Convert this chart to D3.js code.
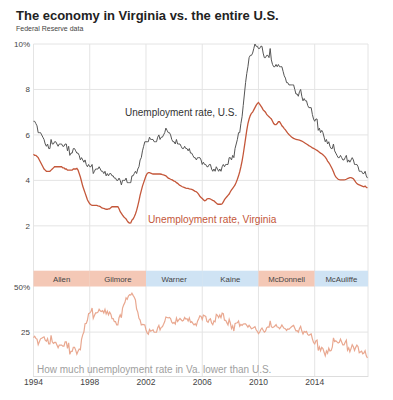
<!DOCTYPE html>
<html>
<head>
<meta charset="utf-8">
<script src="https://cdn.jsdelivr.net/npm/d3@7"></script>
<style>
  body { margin: 0; background: #fff; }
  svg { display: block; font-family: "Liberation Sans", Arial, sans-serif; }
</style>
</head>
<body>
<svg id="chart" width="393" height="400"></svg>
<script>
// Monthly data, Jan 1994 – Oct 2017
const startYear = 1994;
const usRate = [
  6.6,6.6,6.5,6.4,6.1,6.1,6.1,6.0,5.9,5.8,5.6,5.5,
  5.6,5.4,5.4,5.8,5.6,5.6,5.7,5.7,5.6,5.5,5.6,5.6,
  5.6,5.5,5.5,5.6,5.6,5.3,5.5,5.1,5.2,5.2,5.4,5.4,
  5.3,5.2,5.2,5.1,4.9,5.0,4.9,4.8,4.9,4.7,4.6,4.7,
  4.6,4.6,4.7,4.3,4.4,4.5,4.5,4.5,4.6,4.5,4.4,4.4,
  4.3,4.4,4.2,4.3,4.2,4.3,4.3,4.2,4.2,4.1,4.1,4.0,
  4.0,4.1,4.0,3.8,4.0,4.0,4.0,4.1,3.9,3.9,3.9,3.9,
  4.2,4.2,4.3,4.4,4.3,4.5,4.6,4.9,5.0,5.3,5.5,5.7,
  5.7,5.7,5.7,5.9,5.8,5.8,5.8,5.7,5.7,5.7,5.9,6.0,
  5.8,5.9,5.9,6.0,6.1,6.3,6.2,6.1,6.1,6.0,5.8,5.7,
  5.7,5.6,5.8,5.6,5.6,5.6,5.5,5.4,5.4,5.5,5.4,5.4,
  5.3,5.4,5.2,5.2,5.1,5.0,5.0,4.9,5.0,5.0,5.0,4.9,
  4.7,4.8,4.7,4.7,4.6,4.6,4.7,4.7,4.5,4.4,4.5,4.4,
  4.6,4.5,4.4,4.5,4.4,4.6,4.7,4.6,4.7,4.7,4.7,5.0,
  5.0,4.9,5.1,5.0,5.4,5.6,5.8,6.1,6.1,6.5,6.8,7.3,
  7.8,8.3,8.7,9.0,9.4,9.5,9.5,9.6,9.8,10.0,9.9,9.9,
  9.8,9.8,9.9,9.9,9.6,9.4,9.4,9.5,9.5,9.4,9.8,9.3,
  9.1,9.0,9.0,9.1,9.0,9.1,9.0,9.0,9.0,8.8,8.6,8.5,
  8.3,8.3,8.2,8.2,8.2,8.2,8.2,8.0,7.8,7.8,7.7,7.9,
  8.0,7.7,7.5,7.6,7.5,7.5,7.3,7.2,7.2,7.2,6.9,6.7,
  6.6,6.7,6.7,6.2,6.3,6.1,6.2,6.1,5.9,5.7,5.8,5.6,
  5.7,5.5,5.4,5.4,5.6,5.3,5.2,5.1,5.0,5.0,5.1,5.0,
  4.9,4.9,5.0,5.1,4.8,4.9,4.8,4.9,5.0,4.9,4.7,4.7,
  4.7,4.6,4.4,4.4,4.4,4.3,4.3,4.4,4.2,4.1
];
const vaRate = [
  5.15,5.1,5.1,5.05,5.0,4.9,4.8,4.7,4.6,4.5,4.45,4.4,
  4.4,4.4,4.4,4.45,4.5,4.55,4.6,4.6,4.6,4.6,4.6,4.6,
  4.6,4.55,4.55,4.5,4.5,4.45,4.45,4.45,4.45,4.45,4.5,4.5,
  4.5,4.53,4.45,4.3,4.15,3.95,3.75,3.6,3.45,3.3,3.15,3.05,
  2.97,2.93,2.9,2.9,2.9,2.9,2.9,2.88,2.87,2.85,2.8,2.78,
  2.77,2.75,2.73,2.73,2.75,2.75,2.8,2.84,2.84,2.84,2.84,2.84,
  2.84,2.75,2.62,2.55,2.47,2.4,2.35,2.3,2.22,2.15,2.12,2.13,
  2.25,2.3,2.4,2.52,2.68,2.88,3.1,3.35,3.55,3.75,3.9,4.05,
  4.2,4.3,4.34,4.34,4.32,4.3,4.28,4.28,4.28,4.28,4.28,4.28,
  4.28,4.27,4.25,4.24,4.22,4.2,4.15,4.1,4.08,4.05,4.03,4.0,
  3.97,3.95,3.9,3.87,3.82,3.78,3.75,3.72,3.7,3.68,3.66,3.65,
  3.65,3.63,3.62,3.6,3.58,3.55,3.52,3.5,3.45,3.38,3.3,3.25,
  3.2,3.15,3.1,3.12,3.18,3.2,3.2,3.18,3.15,3.12,3.1,3.05,
  3.0,2.96,2.95,2.95,2.95,2.97,3.05,3.15,3.22,3.28,3.34,3.4,
  3.5,3.58,3.65,3.72,3.8,3.92,4.05,4.2,4.38,4.6,4.85,5.15,
  5.5,5.85,6.2,6.5,6.7,6.85,6.95,7.0,7.1,7.2,7.3,7.38,
  7.43,7.35,7.28,7.2,7.1,7.05,7.0,6.9,6.85,6.8,6.75,6.7,
  6.6,6.5,6.45,6.45,6.5,6.58,6.58,6.5,6.4,6.35,6.28,6.22,
  6.15,6.08,6.02,5.97,5.92,5.88,5.85,5.83,5.8,5.79,5.78,5.77,
  5.75,5.73,5.7,5.67,5.63,5.6,5.57,5.53,5.5,5.47,5.43,5.41,
  5.38,5.35,5.32,5.28,5.24,5.2,5.17,5.13,5.08,5.02,4.95,4.85,
  4.78,4.7,4.6,4.5,4.38,4.25,4.15,4.1,4.05,4.03,4.02,4.02,
  4.02,4.02,4.03,4.05,4.08,4.1,4.12,4.12,4.1,4.07,4.0,3.92,
  3.86,3.82,3.8,3.78,3.76,3.74,3.72,3.75,3.7,3.66
];
const governors = ["Allen","Gilmore","Warner","Kaine","McDonnell","McAuliffe"];
const govStart  = [1994, 1998, 2002, 2006, 2010, 2014];
const govParty  = ["R","R","D","D","R","D"];
const xTicks = [1994, 1998, 2002, 2006, 2010, 2014];
const yTicksTop = [2, 4, 6, 8, 10];
const yTicksBottom = [25, 50];

const months = usRate.map((d, i) => startYear + i / 12);
// share by which the Virginia rate is lower than the U.S. rate, in percent
const gapPct = usRate.map((u, i) => (u - vaRate[i]) / u * 100);

const svg = d3.select("#chart");
const x = d3.scaleLinear().domain([1994, 2017.79]).range([33.5, 368]);
const yTop = d3.scaleLinear().domain([0, 10]).range([271.3, 44]);
const yBot = d3.scaleLinear().domain([0, 50]).range([377.5, 286.7]);

const grid = "#e4e4e4";
// title
svg.append("text").attr("x", 16).attr("y", 20)
  .attr("font-size", 13).attr("font-weight", "bold").attr("fill", "#222")
  .text("The economy in Virginia vs. the entire U.S.");
svg.append("text").attr("x", 16).attr("y", 31)
  .attr("font-size", 7).attr("fill", "#444")
  .text("Federal Reserve data");

// horizontal gridlines top
svg.append("g").selectAll("line").data(yTicksTop).join("line")
  .attr("x1", x.range()[0]).attr("x2", x.range()[1])
  .attr("y1", d => yTop(d)).attr("y2", d => yTop(d))
  .attr("stroke", grid).attr("stroke-width", 1);
// horizontal gridline bottom
svg.append("g").selectAll("line").data([25]).join("line")
  .attr("x1", x.range()[0]).attr("x2", x.range()[1])
  .attr("y1", d => yBot(d)).attr("y2", d => yBot(d))
  .attr("stroke", grid).attr("stroke-width", 1);
// vertical gridlines
const vLines = xTicks.concat([x.domain()[1]]);
svg.append("g").selectAll("line").data(vLines).join("line")
  .attr("x1", d => x(d)).attr("x2", d => x(d))
  .attr("y1", yTop(10)).attr("y2", 377)
  .attr("stroke", grid).attr("stroke-width", 1);
// bottom baseline
svg.append("line").attr("x1", x.range()[0]).attr("x2", x.range()[1])
  .attr("y1", 376.5).attr("y2", 376.5).attr("stroke", "#ddd");

// y tick labels
svg.append("g").selectAll("text").data(yTicksTop).join("text")
  .attr("x", 30).attr("y", d => yTop(d)).attr("dy", "0.35em")
  .attr("text-anchor", "end").attr("font-size", 8).attr("fill", "#444")
  .text(d => d === 10 ? "10%" : d);
svg.append("g").selectAll("text").data(yTicksBottom).join("text")
  .attr("x", 30).attr("y", d => yBot(d)).attr("dy", "0.35em")
  .attr("text-anchor", "end").attr("font-size", 8).attr("fill", "#444")
  .text(d => d === 50 ? "50%" : d);

// x tick labels
svg.append("g").selectAll("text").data(xTicks).join("text")
  .attr("x", d => x(d)).attr("y", 385)
  .attr("text-anchor", "middle").attr("font-size", 8.5).attr("fill", "#444")
  .text(d => d);

// lines
const lineTop = (arr) => d3.line().x((d, i) => x(months[i])).y(d => yTop(d))(arr);
svg.append("path").attr("d", lineTop(usRate))
  .attr("fill", "none").attr("stroke", "#555").attr("stroke-width", 1);
svg.append("path").attr("d", lineTop(vaRate))
  .attr("fill", "none").attr("stroke", "#c4573a").attr("stroke-width", 1.3);
svg.append("path")
  .attr("d", d3.line().x((d, i) => x(months[i])).y(d => yBot(d))(gapPct))
  .attr("fill", "none").attr("stroke", "#e9a890").attr("stroke-width", 1.2);

// governor band
const govEnd = govStart.slice(1).concat([x.domain()[1]]);
const band = svg.append("g");
band.selectAll("rect").data(governors).join("rect")
  .attr("x", (d, i) => x(govStart[i])).attr("width", (d, i) => x(govEnd[i]) - x(govStart[i]))
  .attr("y", 270.7).attr("height", 15.8)
  .attr("fill", (d, i) => govParty[i] === "R" ? "#f4c8b6" : "#cfe3f4");
band.selectAll("text").data(governors).join("text")
  .attr("x", (d, i) => (x(govStart[i]) + x(govEnd[i])) / 2).attr("y", 281.5)
  .attr("text-anchor", "middle").attr("font-size", 7.8).attr("fill", "#444")
  .text(d => d);

// annotations
svg.append("text").attr("x", 125).attr("y", 116)
  .attr("font-size", 10).attr("fill", "#333").text("Unemployment rate, U.S.");
svg.append("text").attr("x", 148).attr("y", 222.5)
  .attr("font-size", 10.2).attr("fill", "#c4573a").text("Unemployment rate, Virginia");
svg.append("text").attr("x", 37).attr("y", 372.5)
  .attr("font-size", 10).attr("fill", "#a0a0a0")
  .text("How much unemployment rate in Va. lower than U.S.");
</script>
</body>
</html>
